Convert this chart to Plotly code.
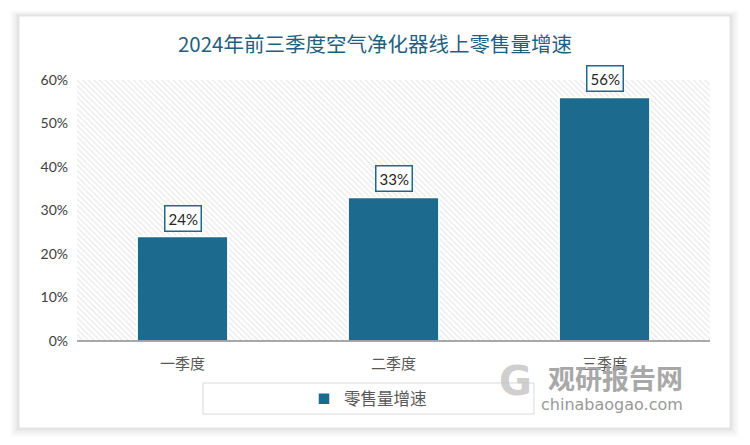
import plotly.graph_objects as go

categories = ["一季度", "二季度", "三季度"]
growth = [0.24, 0.33, 0.56]
labels = ["24%", "33%", "56%"]
series_name = "零售量增速"
title = "2024年前三季度空气净化器线上零售量增速"
y_max = 0.6

W, H = 750, 445
L, R, T, B = 77, 40, 80, 104
PW, PH = W - L - R, H - T - B

def px(x):
    return (x - L) / PW

def py(y):
    return (H - B - y) / PH

bar_color = "#1c6a8e"
fig = go.Figure()

# hatched plot background (base axis x, drawn first)
fig.add_trace(go.Bar(
    x=[0.5], y=[y_max], width=[1], xaxis="x", showlegend=False, hoverinfo="skip",
    marker=dict(color="white", line=dict(width=0),
                pattern=dict(shape="\\", fgcolor="#d2d2d2", bgcolor="white", size=4, solidity=0.3)),
))

fig.add_trace(go.Bar(
    x=categories, y=growth, name=series_name, xaxis="x2",
    marker=dict(color=bar_color, line=dict(color="white", width=1.5)),
    width=0.43,
))

for c, v, t in zip(categories, growth, labels):
    fig.add_annotation(xref="x2", yref="y", x=c, y=v, text=t, showarrow=False, yanchor="bottom", yshift=5,
                       font=dict(family="Lato, Open Sans, sans-serif", size=15, color="#262626"),
                       bgcolor="white", bordercolor=bar_color, borderwidth=1.5, borderpad=3)

# card with shadow
CX0, CX1, CY0, CY1 = 19, 730, 16, 428
shapes = []
for d, col in [(9, "#fbfbfb"), (7, "#f6f6f6"), (5, "#f0f0f0"), (3, "#e9e9e9"), (1.5, "#e2e2e2")]:
    shapes.append(dict(type="rect", xref="paper", yref="paper", layer="below",
                       x0=px(CX0 - d), x1=px(CX1 + d), y0=py(CY1 + d), y1=py(CY0 - d * 0.6),
                       fillcolor=col, line=dict(width=0)))
shapes.append(dict(type="rect", xref="paper", yref="paper", layer="below",
                   x0=px(CX0), x1=px(CX1), y0=py(CY1), y1=py(CY0),
                   fillcolor="white", line=dict(color="#e4e4e4", width=1)))
# legend box
shapes.append(dict(type="rect", xref="paper", yref="paper", layer="below",
                   x0=px(203), x1=px(534), y0=py(414), y1=py(383),
                   fillcolor="white", line=dict(color="#d9d9d9", width=1)))
# x axis line
shapes.append(dict(type="line", xref="paper", yref="paper", x0=0, x1=1, y0=0, y1=0,
                   line=dict(color="#8c8c8c", width=1.5)))

# watermark
fig.add_annotation(xref="paper", yref="paper", x=px(615), y=py(377), xanchor="center", yanchor="middle",
                   text="<b>观研报告网</b>",
                   showarrow=False, font=dict(family="Noto Sans CJK SC", size=27, color="#9a9a9a"),
                   opacity=0.85)
fig.add_annotation(xref="paper", yref="paper", x=px(612), y=py(404), xanchor="center", yanchor="middle",
                   text="chinabaogao.com",
                   showarrow=False, font=dict(family="DejaVu Sans", size=16, color="#8f8f8f"),
                   opacity=0.9)
fig.add_annotation(xref="paper", yref="paper", x=px(515), y=py(381), xanchor="center", yanchor="middle",
                   text="<b>G</b>",
                   showarrow=False, font=dict(family="DejaVu Sans", size=40, color="#c4c4c4"),
                   opacity=0.8)

fig.update_layout(
    width=W, height=H,
    margin=dict(l=L, r=R, t=T, b=B),
    paper_bgcolor="white", plot_bgcolor="rgba(0,0,0,0)",
    title=dict(text=title, x=0.5, xanchor="center", y=1 - 45 / H, yanchor="middle",
               font=dict(family="Noto Sans CJK SC", size=20.5, color="#1f5f80")),
    barmode="overlay",
    xaxis=dict(range=[0, 1], visible=False, fixedrange=True),
    xaxis2=dict(overlaying="x", side="bottom", showgrid=False, showline=False, ticks="", zeroline=False,
                ticklabelstandoff=12,
                tickfont=dict(family="Noto Sans CJK SC", size=15, color="#595959")),
    yaxis=dict(range=[0, y_max], dtick=0.1, tickformat=".0%", showgrid=False, zeroline=False,
               showline=False, ticks="", ticklabelstandoff=8,
               tickfont=dict(family="Lato, Open Sans, sans-serif", size=14, color="#404040")),
    showlegend=True,
    legend=dict(orientation="h", x=px(368), xanchor="center", y=py(399), yanchor="middle",
                bgcolor="rgba(0,0,0,0)", borderwidth=0,
                font=dict(family="Noto Sans CJK SC", size=16.5, color="#595959")),
    shapes=shapes,
    bargap=0.57,
)

fig.write_html("out.html")
